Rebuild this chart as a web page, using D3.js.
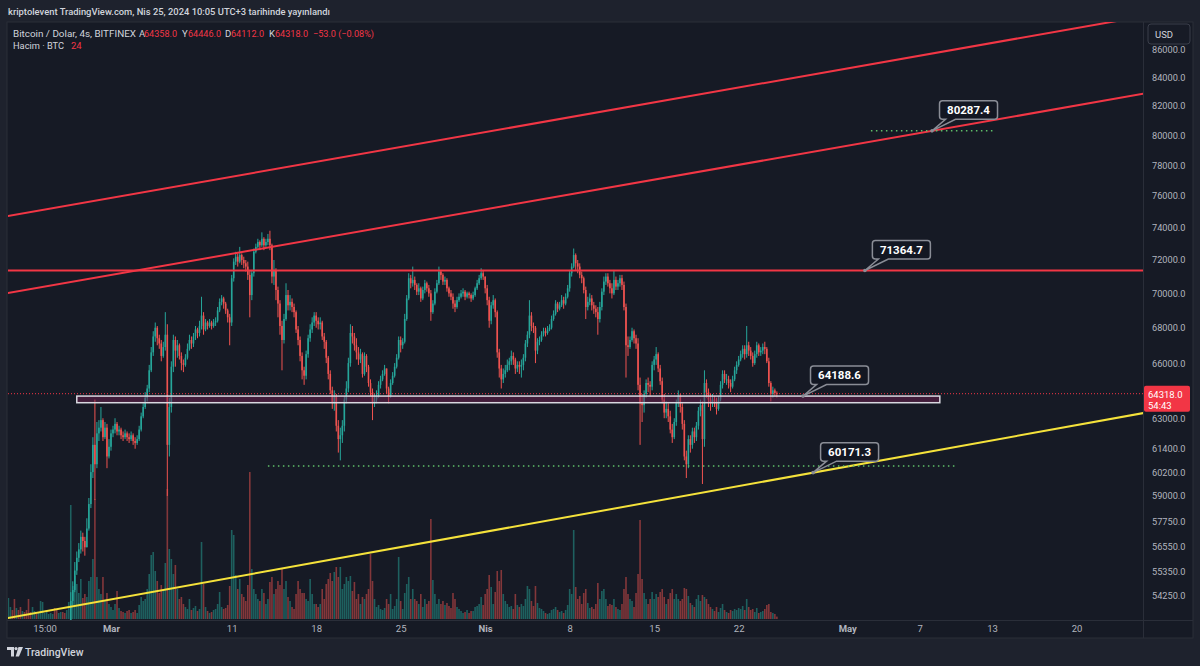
<!DOCTYPE html>
<html><head><meta charset="utf-8">
<script src="https://cdn.jsdelivr.net/npm/d3@7"></script>
<style>
html,body{margin:0;padding:0;background:#1e222d;}
svg{display:block;}
text{font-family:Roboto,"Noto Sans",sans-serif;}
</style></head><body>
<svg id="chart" width="1200" height="666"></svg>
<script>
// ---------------- DATA ----------------
const firstCandleTime = "2024-02-21T08:00:00Z"; // 4h candles, UTC
const firstOpenK = 51.4;
// closes, thousands of USD, one line per day (00,04,08,12,16,20 UTC)
const closesK = [
51.6,51.8,51.9,51.7,
51.4,51.9,51.6,51.2,51.4,51.3,
51.0,50.9,50.6,50.8,51.0,50.8,
50.9,51.2,51.4,51.5,51.6,51.6,
51.7,51.8,51.6,51.5,51.7,51.8,
51.6,51.5,51.8,52.3,54.0,54.5,
55.4,56.0,56.4,57.0,56.8,56.5,
57.4,58.6,60.2,61.6,60.6,62.2,
62.5,62.9,62.0,62.5,61.0,61.5,
62.2,62.4,62.7,62.3,62.4,62.1,
62.0,62.2,62.0,61.9,62.1,61.8,
61.7,61.9,62.4,63.1,63.6,64.1,
64.6,65.6,66.6,67.5,68.0,67.4,
67.1,66.4,66.9,67.6,61.6,63.6,
65.8,67.3,66.7,67.0,66.4,66.0,
65.9,66.3,66.8,67.3,67.1,67.5,
67.9,67.7,68.1,68.7,67.9,68.3,
68.1,68.3,68.1,68.3,68.4,69.0,
69.5,69.7,69.4,69.0,68.6,68.3,
70.9,71.9,72.2,71.9,72.3,72.0,
71.8,71.6,71.1,69.9,71.2,72.5,
72.8,73.1,72.9,73.3,72.9,73.1,
73.3,72.9,71.0,71.4,70.2,69.4,
68.1,67.3,68.5,69.9,69.3,69.5,
69.2,68.9,67.9,67.3,66.4,65.6,
65.3,66.5,67.4,67.9,68.3,68.7,
68.4,68.2,68.3,67.5,67.2,66.3,
65.4,64.5,63.8,64.2,62.6,61.9,
62.1,62.6,64.0,64.6,66.0,67.7,
67.5,67.0,66.6,66.2,66.5,65.4,
66.4,65.8,64.9,64.4,63.8,64.0,
64.2,64.8,65.1,65.4,65.7,64.6,
64.2,64.9,65.3,65.8,66.3,67.3,
67.0,67.2,68.5,69.7,70.9,70.6,
70.8,70.5,70.1,70.3,69.7,70.2,
70.6,70.3,70.0,68.9,69.4,70.1,
70.6,71.3,71.1,70.7,70.8,70.3,
70.0,69.8,69.4,69.2,69.6,69.8,
70.0,70.1,69.8,70.0,69.9,69.7,
69.9,70.3,70.6,70.9,71.2,71.0,
70.3,69.6,68.4,69.3,69.6,68.9,
66.6,65.7,65.1,65.4,65.6,65.9,
66.1,66.4,66.2,65.7,65.9,65.8,
65.9,66.3,67.1,67.6,68.7,68.1,
68.0,66.7,67.2,67.3,67.6,67.8,
67.7,67.9,68.0,68.5,68.8,69.4,
69.1,69.3,69.6,69.4,69.8,70.3,
71.2,71.6,72.3,71.8,71.6,71.1,
70.9,70.2,69.2,69.5,69.7,69.3,
69.1,68.9,68.5,69.2,70.1,70.7,
71.0,70.6,70.3,70.0,70.8,70.4,
70.6,70.9,70.5,69.2,67.0,66.9,
67.3,67.8,67.4,67.1,64.8,63.8,
63.7,64.3,64.9,64.8,64.7,65.9,
66.2,66.5,65.7,65.0,64.0,63.3,
63.5,63.1,62.4,62.0,62.8,63.8,
64.2,63.6,62.7,61.0,60.6,61.9,
61.6,62.3,62.0,62.6,63.4,63.7,
61.9,64.9,64.4,64.0,63.8,64.0,
63.9,63.5,64.0,64.8,65.4,65.1,
65.1,64.9,64.7,65.1,65.6,65.9,
66.2,66.5,66.8,66.5,67.0,66.7,
66.4,66.0,66.5,67.0,66.6,66.7,
66.9,66.8,66.1,64.9,64.3,64.5,
64.358,64.318];
const highsK = [
51.8,52.0,52.1,52.0,
51.8,52.1,52.0,51.7,51.6,51.6,
51.4,51.2,51.0,51.0,51.2,51.1,
51.1,51.3,51.6,51.7,51.8,51.8,
51.9,52.0,51.9,51.7,51.9,52.0,
51.9,51.8,52.0,52.6,54.4,54.9,
55.8,56.3,56.7,57.3,57.2,57.0,
57.9,58.9,60.6,62.0,64.0,62.8,
62.9,63.6,63.0,62.8,62.7,61.9,
62.4,62.6,63.0,62.8,62.6,62.5,
62.3,62.4,62.3,62.2,62.3,62.2,
62.0,62.1,62.6,63.3,63.8,64.4,
64.8,65.9,66.9,67.8,68.3,68.1,
67.6,67.3,67.2,68.9,68.2,64.1,
66.1,67.6,67.5,67.3,67.1,66.6,
66.2,66.5,67.1,67.6,67.5,67.7,
68.1,68.0,68.4,69.8,68.9,68.5,
68.4,68.5,68.4,68.5,68.6,69.2,
69.7,69.9,69.8,69.5,69.1,68.8,
71.1,72.1,72.5,72.4,72.8,72.4,
72.2,72.0,71.9,71.4,71.4,72.7,
73.0,73.3,73.2,73.7,73.4,73.3,
73.6,73.8,73.0,72.0,71.5,70.4,
69.6,68.4,68.8,70.6,70.2,69.9,
69.7,69.4,69.0,68.1,67.5,66.6,
65.8,66.7,67.6,68.2,68.6,68.9,
68.9,68.6,68.6,68.4,67.7,67.3,
66.4,65.6,64.7,64.5,64.3,62.9,
62.5,62.9,64.2,65.0,66.3,68.2,
68.1,67.7,67.4,66.9,66.8,66.6,
66.6,66.5,65.9,65.1,64.6,64.3,
64.5,65.0,65.3,65.6,65.9,65.7,
64.7,65.1,65.5,66.0,66.5,67.5,
67.5,67.4,68.8,69.9,71.2,71.1,
71.6,71.0,70.6,70.6,70.4,70.4,
70.8,70.7,70.5,70.2,69.6,70.3,
70.8,71.6,71.4,71.2,71.0,70.9,
70.4,70.2,70.0,69.6,69.8,70.0,
70.2,70.3,70.2,70.1,70.1,70.0,
70.1,70.4,70.8,71.1,71.5,71.4,
71.0,70.5,69.8,69.5,69.9,69.7,
69.0,66.8,65.9,65.7,65.9,66.2,
66.3,66.7,66.6,66.3,66.1,66.1,
66.2,66.5,67.3,67.8,69.6,68.9,
68.3,68.1,67.4,67.5,67.8,68.0,
68.0,68.1,68.2,68.7,69.0,69.6,
69.5,69.5,69.9,69.8,70.0,70.5,
71.4,71.8,72.7,72.4,72.0,71.8,
71.3,71.0,70.4,69.8,70.0,69.9,
69.5,69.3,69.2,69.5,70.3,71.0,
71.2,71.2,70.8,70.6,71.4,71.0,
70.8,71.1,71.1,70.7,69.4,67.5,
67.5,68.0,67.9,67.6,67.4,65.2,
64.3,64.5,65.1,65.2,65.0,66.1,
66.4,66.9,66.6,65.9,65.2,64.3,
63.9,63.8,63.4,62.7,63.0,64.0,
64.5,64.3,63.8,62.9,61.3,62.1,
62.1,62.5,62.5,62.8,63.6,64.0,
63.9,65.6,65.1,64.6,64.3,64.3,
64.2,64.1,64.2,65.0,65.6,65.6,
65.4,65.3,65.1,65.3,65.8,66.1,
66.4,66.7,67.0,67.0,68.1,67.2,
66.9,66.6,66.7,67.2,67.1,66.9,
67.1,67.2,66.9,66.3,65.0,64.7,
64.6,64.446];
const lowsK = [
51.3,51.5,51.6,51.5,
51.2,51.3,51.3,51.0,51.1,51.1,
50.8,50.6,50.4,50.5,50.7,50.6,
50.6,50.8,51.1,51.3,51.4,51.4,
51.5,51.6,51.4,51.3,51.4,51.6,
51.3,51.2,51.4,51.7,52.2,53.8,
54.4,55.2,55.8,56.2,56.3,56.1,
56.5,57.3,58.4,59.9,58.8,60.4,
61.8,62.3,61.8,61.9,60.4,60.9,
61.3,62.0,62.2,62.1,62.1,61.9,
61.8,61.9,61.8,61.7,61.8,61.6,
61.4,61.6,61.8,62.3,63.0,63.5,
63.9,64.4,65.5,66.4,67.2,67.0,
66.8,66.1,66.3,66.7,59.0,61.0,
63.3,65.5,65.8,66.3,66.2,65.6,
65.5,65.8,66.2,66.7,66.8,66.9,
67.3,67.4,67.5,67.9,67.6,67.8,
67.9,68.0,67.9,68.0,68.1,68.3,
68.9,69.3,69.1,68.8,68.3,67.0,
68.1,70.7,71.7,71.6,71.8,71.7,
71.5,71.3,70.8,68.6,69.6,71.0,
72.4,72.7,72.6,72.8,72.6,72.8,
72.9,72.6,70.6,70.5,69.6,68.6,
67.6,65.6,67.1,68.4,69.0,69.0,
68.9,68.6,67.7,67.0,66.1,65.1,
64.8,65.1,66.3,67.2,67.7,68.1,
68.0,67.9,67.9,67.3,66.8,66.0,
65.1,64.3,63.5,63.4,62.3,61.2,
60.8,61.7,62.3,63.8,64.4,65.8,
67.1,66.7,66.2,65.9,66.0,65.2,
65.3,65.5,64.7,64.2,62.9,63.6,
63.8,64.1,64.6,65.0,65.3,64.3,
63.8,64.1,64.8,65.2,65.7,66.2,
66.6,66.8,67.1,68.4,69.6,70.3,
70.4,70.2,69.9,69.9,69.5,69.6,
70.0,70.1,69.8,68.4,68.8,69.3,
70.0,70.5,70.8,70.5,70.5,70.1,
69.8,69.6,69.1,68.9,69.1,69.5,
69.7,69.8,69.6,69.7,69.7,69.5,
69.6,69.8,70.2,70.5,70.8,70.8,
70.0,69.3,68.0,68.2,69.1,68.6,
66.3,65.2,64.6,64.9,65.2,65.5,
65.6,65.9,65.9,65.4,65.5,65.4,
65.2,65.6,66.1,66.9,67.4,67.8,
67.7,66.0,66.5,67.0,67.2,67.5,
67.5,67.6,67.8,67.9,68.4,68.7,
68.9,69.0,69.2,69.1,69.3,69.7,
70.1,71.0,71.5,71.4,71.2,70.9,
70.6,70.0,68.5,69.0,69.3,69.0,
68.8,68.6,67.6,68.3,69.0,69.9,
70.5,70.4,70.0,69.7,69.9,70.2,
70.2,70.4,70.2,69.0,65.2,66.4,
66.8,67.2,67.1,66.8,64.5,61.6,
62.8,63.3,64.1,64.4,64.2,64.5,
65.6,65.9,65.5,64.8,63.8,63.0,
63.0,62.8,62.2,61.7,61.9,62.6,
63.6,63.3,62.4,60.8,59.9,60.4,
61.2,61.4,61.7,61.8,62.4,63.1,
59.6,61.5,64.1,63.6,63.4,63.6,
63.6,63.2,63.4,63.9,64.6,64.9,
64.8,64.6,64.4,64.6,65.0,65.4,
65.8,66.1,66.3,66.2,66.3,66.4,
66.2,65.8,65.9,66.3,66.4,66.4,
66.5,66.5,66.0,64.7,63.9,64.1,
64.2,64.112];
// volume, BTC
const volumesBTC = [
140,210,120,90,
200,110,90,120,80,70,
90,200,70,120,80,50,
60,180,170,60,90,50,
60,50,110,90,60,70,
70,60,90,170,1140,330,
430,350,260,400,210,250,
220,380,420,600,1200,420,
300,250,420,180,260,150,
120,90,150,280,110,80,
70,60,80,90,60,70,
90,60,140,220,180,200,
300,450,640,670,480,380,
260,340,300,560,1300,700,
600,450,540,300,200,220,
150,120,100,200,90,110,
130,80,100,770,350,120,
80,60,70,90,100,150,
270,120,100,110,140,330,
890,840,440,300,400,250,
220,180,340,1470,500,300,
250,200,180,300,260,150,
200,370,420,250,300,380,
340,500,300,380,220,180,
120,100,250,380,300,260,
260,200,180,400,250,150,
150,120,150,300,200,350,
400,460,380,470,520,420,
520,300,350,420,380,430,
280,370,200,250,150,220,
200,250,300,650,380,200,
120,140,100,90,110,200,
150,250,100,130,200,620,
180,100,260,350,420,200,
300,200,180,150,250,120,
200,150,180,1000,390,250,
150,200,150,180,140,160,
130,110,260,200,120,100,
80,60,70,90,60,80,
80,120,130,150,220,140,
250,300,440,320,150,270,
480,380,490,250,180,150,
120,130,100,250,140,120,
150,130,200,330,300,180,
130,330,160,110,100,80,
60,50,60,90,100,120,
90,70,80,60,90,140,
300,250,890,320,200,230,
150,260,300,160,110,120,
100,150,360,200,280,300,
200,130,150,140,200,120,
100,90,150,300,420,250,
200,180,120,260,450,990,
400,260,200,150,200,270,
200,250,220,270,300,220,
150,200,260,300,200,250,
200,180,200,310,300,230,
160,140,120,200,240,180,
240,220,200,150,120,100,
80,120,70,110,150,90,
70,60,90,80,100,90,
110,100,130,90,200,120,
90,100,70,110,60,70,
80,100,140,150,70,60,
50,24];

// 64000.0 sits under the last-price label in the reference, so it is not listed
const priceTicks = [86000,84000,82000,80000,78000,76000,74000,72000,70000,68000,66000,63000,61400,60200,59000,57750,56550,55350,54250];
const timeTickDates = ["2024-02-24T12:00:00Z","2024-03-01T00:00:00Z","2024-03-11T00:00:00Z","2024-03-18T00:00:00Z","2024-03-25T00:00:00Z","2024-04-01T00:00:00Z","2024-04-08T00:00:00Z","2024-04-15T00:00:00Z","2024-04-22T00:00:00Z","2024-05-01T00:00:00Z","2024-05-07T00:00:00Z","2024-05-13T00:00:00Z","2024-05-20T00:00:00Z"];
const timeTickLabels = ["15:00","Mar","11","18","25","Nis","8","15","22","May","7","13","20"];
const monthLabels = ["Mar","Nis","May"];

const timeDomain = ["2024-02-21T11:13:00Z","2024-05-25T12:00:00Z"];
const priceDomain = [53137, 88013];
const volumeDomain = [0, 2000];

// drawings (anchors in time/price)
const upperChannel = [["2024-02-21T12:00:00Z",74720],["2024-05-08T00:00:00Z",85700]];
const lowerChannel = [["2024-02-21T12:00:00Z",70020],["2024-05-08T00:30:00Z",80287.4]];
const supportLine  = [["2024-02-21T12:00:00Z",53230],["2024-04-28T04:00:00Z",60171.3]];
const resistanceLevel = 71364.7;
const zone = {from:"2024-02-27T04:00:00Z", to:"2024-05-08T16:00:00Z", top:64188.6, bottom:63830};
const dottedLevels = [
  {value:80287.4, from:"2024-05-02T23:00:00Z", to:"2024-05-13T02:00:00Z"},
  {value:60510,   from:"2024-03-14T00:00:00Z", to:"2024-05-09T22:00:00Z"}
];
const callouts = [
  {value:80287.4, date:"2024-05-08T00:30:00Z", text:"80287.4"},
  {value:71364.7, date:"2024-05-02T11:00:00Z", text:"71364.7"},
  {value:64188.6, date:"2024-04-27T08:00:00Z", text:"64188.6"},
  {value:60171.3, date:"2024-04-28T04:00:00Z", text:"60171.3"}
];
const lastPrice = 64318.0;
const countdown = "54:43";
const headerText = "kriptolevent TradingView.com, Nis 25, 2024 10:05 UTC+3 tarihinde yayınlandı";
const legendValues = {A:"64358.0", Y:"64446.0", D:"64112.0", K:"64318.0", chg:"−53.0 (−0.08%)", vol:"24"};

// ---------------- DRAWING ----------------
const plot = {left:8, right:1143, top:22, bottom:620};
const C = {outer:"#1e222d", pane:"#161a25", grid:"#2a2e39", text:"#d1d4dc", axis:"#b2b5be",
           up:"#26a69a", down:"#ef5350", red:"#f23645", yellow:"#f5e23b", green:"#4caf50"};
const svg = d3.select("#chart");

svg.append("rect").attr("width",1200).attr("height",666).attr("fill",C.outer);
svg.append("rect").attr("x",7).attr("y",22).attr("width",1186).attr("height",616)
   .attr("fill",C.pane).attr("stroke","#2a2e39").attr("stroke-width",1);

const x = d3.scaleUtc().domain(timeDomain.map(d=>new Date(d))).range([plot.left, plot.right]);
const y = d3.scaleLog().domain(priceDomain).range([plot.bottom, plot.top]);
const vy = d3.scaleLinear().domain(volumeDomain).range([plot.bottom-1, plot.bottom-201]);

svg.append("clipPath").attr("id","clip").append("rect")
   .attr("x",plot.left).attr("y",plot.top).attr("width",plot.right-plot.left).attr("height",plot.bottom-plot.top);

const t0 = Date.parse(firstCandleTime);
const candles = closesK.map((c,i)=>{
  const o = i ? closesK[i-1] : firstOpenK;
  return {t:new Date(t0 + i*4*3600e3), o:o*1000, c:c*1000, h:highsK[i]*1000, l:lowsK[i]*1000, v:volumesBTC[i]};
});

const g = svg.append("g").attr("clip-path","url(#clip)");

// volume
g.append("g").selectAll("rect").data(candles).join("rect")
  .attr("x",d=>x(d.t)-0.8).attr("width",1.6)
  .attr("y",d=>vy(d.v)).attr("height",d=>vy(0)-vy(d.v))
  .attr("fill",d=>d.c>=d.o ? "rgba(38,166,154,0.5)" : "rgba(239,83,80,0.5)");

// candles
const cg = g.append("g");
cg.selectAll("rect.w").data(candles).join("rect").attr("class","w")
  .attr("x",d=>x(d.t)-0.5).attr("width",1)
  .attr("y",d=>y(Math.max(d.h,d.o,d.c))).attr("height",d=>Math.max(1,y(Math.min(d.l,d.o,d.c))-y(Math.max(d.h,d.o,d.c))))
  .attr("fill",d=>d.c>=d.o?C.up:C.down);
cg.selectAll("rect.b").data(candles).join("rect").attr("class","b")
  .attr("x",d=>x(d.t)-0.8).attr("width",1.6)
  .attr("y",d=>y(Math.max(d.o,d.c))).attr("height",d=>Math.max(1,Math.abs(y(d.o)-y(d.c))))
  .attr("fill",d=>d.c>=d.o?C.up:C.down);

// zone box
g.append("rect")
  .attr("x",x(new Date(zone.from))).attr("y",y(zone.top))
  .attr("width",x(new Date(zone.to))-x(new Date(zone.from)))
  .attr("height",y(zone.bottom)-y(zone.top))
  .attr("fill","rgba(120,30,85,0.45)").attr("stroke","#d8d8e0").attr("stroke-width",1.5);

// current price dotted line
g.append("line").attr("x1",plot.left).attr("x2",plot.right)
  .attr("y1",y(lastPrice)).attr("y2",y(lastPrice))
  .attr("stroke",C.red).attr("stroke-width",1).attr("stroke-dasharray","1,2");

// extended trend lines
function extLine(pts,color){
  const [p1,p2] = pts.map(p=>[x(new Date(p[0])), y(p[1])]);
  const m = (p2[1]-p1[1])/(p2[0]-p1[0]);
  const xa = plot.left-5, xb = plot.right+5;
  g.append("line").attr("x1",xa).attr("y1",p1[1]+m*(xa-p1[0]))
    .attr("x2",xb).attr("y2",p1[1]+m*(xb-p1[0]))
    .attr("stroke",color).attr("stroke-width",2);
}
extLine(upperChannel,C.red);
extLine(lowerChannel,C.red);
extLine(supportLine,C.yellow);
g.append("line").attr("x1",plot.left).attr("x2",plot.right)
  .attr("y1",y(resistanceLevel)).attr("y2",y(resistanceLevel))
  .attr("stroke",C.red).attr("stroke-width",2);

// green dotted levels
g.selectAll("line.dl").data(dottedLevels).join("line").attr("class","dl")
  .attr("x1",d=>x(new Date(d.from))).attr("x2",d=>x(new Date(d.to)))
  .attr("y1",d=>y(d.value)).attr("y2",d=>y(d.value))
  .attr("stroke","#5fbf6a").attr("stroke-width",1.5).attr("stroke-dasharray","1.5,3.5");

// callouts
callouts.forEach(d=>{
  const ax = x(new Date(d.date)), ay = y(d.value);
  const x0 = ax+7.5, w = 58, h = 18.5, y0 = ay-30, r = 3, yb = y0+h;
  const path = `M${x0+r},${y0} H${x0+w-r} Q${x0+w},${y0} ${x0+w},${y0+r} V${yb-r} Q${x0+w},${yb} ${x0+w-r},${yb} H${x0+16} L${ax},${ay} L${x0+6},${yb} H${x0+r} Q${x0},${yb} ${x0},${yb-r} V${y0+r} Q${x0},${y0} ${x0+r},${y0} Z`;
  svg.append("path").attr("d",path).attr("fill","#131722").attr("stroke","#8a8d96").attr("stroke-width",1.5);
  svg.append("circle").attr("cx",ax).attr("cy",ay).attr("r",1.8).attr("fill","#8a8d96");
  svg.append("text").attr("x",x0+w/2).attr("y",y0+h/2+4).attr("text-anchor","middle")
    .attr("fill","#ffffff").attr("font-size",11.5).attr("font-weight",700).text(d.text);
});

// axes separators
svg.append("line").attr("x1",plot.right+0.5).attr("x2",plot.right+0.5).attr("y1",22).attr("y2",638).attr("stroke",C.grid);
svg.append("line").attr("x1",7).attr("x2",1193).attr("y1",plot.bottom+0.5).attr("y2",plot.bottom+0.5).attr("stroke",C.grid);

// price axis
const yAxis = d3.axisRight(y).tickValues(priceTicks).tickFormat(d3.format(".1f")).tickSize(0).tickPadding(9);
const ya = svg.append("g").attr("transform",`translate(${plot.right},0)`).call(yAxis);
ya.select(".domain").remove();
ya.selectAll("text").attr("fill",C.axis).attr("font-size",9.2).attr("font-family","Roboto, sans-serif");

// time axis
const xAxis = d3.axisBottom(x).tickValues(timeTickDates.map(d=>new Date(d)))
  .tickFormat((d,i)=>timeTickLabels[i]).tickSize(0).tickPadding(5);
const xa = svg.append("g").attr("transform",`translate(0,${plot.bottom})`).call(xAxis);
xa.select(".domain").remove();
xa.selectAll("text").attr("fill",C.axis).attr("font-size",9.5)
  .attr("font-weight",(d,i)=>monthLabels.includes(timeTickLabels[i])?700:400);

// USD box
svg.append("rect").attr("x",1148).attr("y",24).attr("width",42).attr("height",20).attr("rx",3)
  .attr("fill","#171b26").attr("stroke","#3a3e4a");
svg.append("text").attr("x",1155).attr("y",38).attr("fill",C.text).attr("font-size",9.5).text("USD");

// last price label
const lp = y(lastPrice);
svg.append("rect").attr("x",1144).attr("y",lp-8).attr("width",46).attr("height",26).attr("rx",2).attr("fill",C.red);
svg.append("text").attr("x",1148).attr("y",lp+4).attr("fill","#fff").attr("font-size",9.5).text(d3.format(".1f")(lastPrice));
svg.append("text").attr("x",1148).attr("y",lp+15).attr("fill","#fff").attr("font-size",9.5).text(countdown);

// header
svg.append("text").attr("x",8).attr("y",15).attr("fill",C.text).attr("font-size",9.5).attr("font-weight",500)
  .attr("textLength",322).attr("lengthAdjust","spacingAndGlyphs").text(headerText);

// legend
const lg = svg.append("g").attr("font-size",9.5);
function seg(xp,yp,txt,col,len){ const t=lg.append("text").attr("x",xp).attr("y",yp).attr("fill",col).text(txt); if(len) t.attr("textLength",len).attr("lengthAdjust","spacingAndGlyphs"); }
seg(13,37,"Bitcoin / Dolar, 4s, BITFINEX",C.text,123);
seg(139,37,"A",C.text); seg(144,37,legendValues.A,C.red,33);
seg(182,37,"Y",C.text); seg(188,37,legendValues.Y,C.red,33);
seg(225,37,"D",C.text); seg(231,37,legendValues.D,C.red,33);
seg(269,37,"K",C.text); seg(275,37,legendValues.K,C.red,33);
seg(313,37,legendValues.chg,C.red,61);
seg(13,49,"Hacim · BTC",C.text,51);
seg(71,49,legendValues.vol,C.red);

// TradingView logo
const logo = svg.append("g").attr("fill",C.text);
logo.append("path").attr("d","M7,647 h7 v9.5 h-3 v-6.5 h-4 z");
logo.append("circle").attr("cx",16).attr("cy",648.6).attr("r",1.6);
logo.append("path").attr("d","M18.5,647 h4.5 l-4,9.5 h-3.4 z");
svg.append("text").attr("x",25).attr("y",656).attr("fill",C.text).attr("font-size",10.5).attr("font-weight",500).text("TradingView");
</script>
</body></html>
